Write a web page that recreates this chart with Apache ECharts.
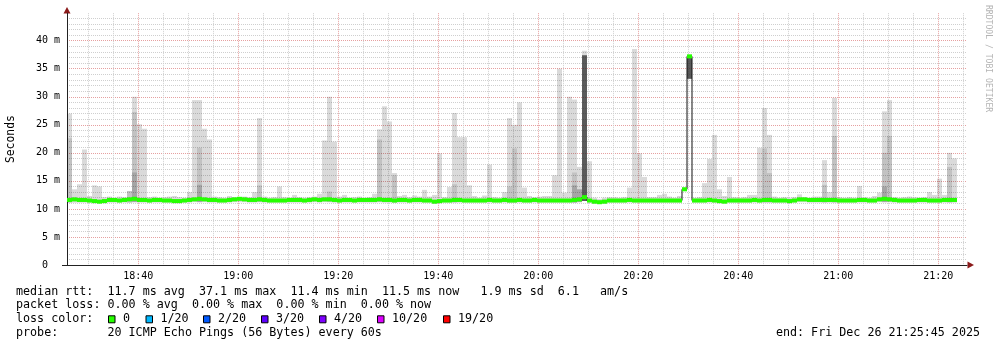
<!DOCTYPE html>
<html><head><meta charset="utf-8">
<script src="https://cdn.jsdelivr.net/npm/echarts@6/dist/echarts.min.js"></script>
<style>html,body{margin:0;padding:0;background:#fff}#c{width:997px;height:347px}</style>
</head><body><div id="c"></div>
<script>
// time: minutes after 18:00; first sample column starts 18:25:45, one column per minute
const startMinute = 25.75;
const endMinute = 205.75;
const stepMinutes = 1;
const xTickLabels = ['18:40','19:00','19:20','19:40','20:00','20:20','20:40','21:00','21:20'];
const yTickLabels = ['0','5 m','10 m','15 m','20 m','25 m','30 m','35 m','40 m'];

// median rtt (ms) per column
const median = [
11.6,11.7,11.6,11.6,11.5,11.4,11.3,11.4,11.6,11.6,
11.5,11.6,11.7,11.8,11.6,11.6,11.5,11.6,11.6,11.5,
11.5,11.4,11.4,11.5,11.6,11.7,11.8,11.7,11.6,11.6,
11.5,11.5,11.6,11.7,11.8,11.7,11.6,11.6,11.7,11.6,
11.5,11.5,11.5,11.5,11.6,11.6,11.6,11.5,11.6,11.7,
11.6,11.7,11.7,11.6,11.5,11.6,11.6,11.5,11.6,11.6,
11.6,11.6,11.7,11.6,11.6,11.5,11.6,11.6,11.5,11.6,
11.6,11.5,11.5,11.3,11.4,11.5,11.5,11.6,11.6,11.5,
11.5,11.5,11.5,11.5,11.6,11.5,11.5,11.6,11.5,11.5,
11.6,11.5,11.5,11.6,11.5,11.5,11.5,11.5,11.5,11.5,
11.5,11.6,11.7,12.1,11.5,11.3,11.2,11.3,11.5,11.5,
11.5,11.5,11.6,11.5,11.5,11.5,11.5,11.5,11.5,11.5,
11.5,11.5,11.5,13.5,37.2,11.5,11.5,11.5,11.6,11.5,
11.4,11.3,11.5,11.5,11.5,11.5,11.5,11.6,11.5,11.6,
11.6,11.5,11.5,11.5,11.4,11.5,11.7,11.7,11.6,11.6,
11.6,11.6,11.6,11.6,11.5,11.5,11.5,11.5,11.6,11.6,
11.5,11.5,11.7,11.8,11.7,11.6,11.5,11.5,11.5,11.5,
11.6,11.6,11.5,11.5,11.5,11.6,11.6,11.6
];
// smoke: lowest ping (ms) per column
const smokeLow = [
11.1,11.1,11.1,11.1,11.1,11.0,11.0,11.0,11.1,11.1,
11.1,11.1,11.1,11.2,11.1,11.1,11.1,11.1,11.1,11.1,
11.1,11.0,11.0,11.1,11.1,11.2,11.2,11.2,11.1,11.1,
11.1,11.1,11.1,11.2,11.2,11.2,11.1,11.1,11.2,11.1,
11.1,11.1,11.1,11.1,11.1,11.1,11.1,11.1,11.1,11.2,
11.1,11.2,11.2,11.1,11.1,11.1,11.1,11.1,11.1,11.1,
11.1,11.1,11.2,11.1,11.1,11.1,11.1,11.1,11.1,11.1,
11.1,11.1,11.1,10.9,11.0,11.1,11.1,11.1,11.1,11.1,
11.1,11.1,11.1,11.1,11.1,11.1,11.1,11.1,11.1,11.1,
11.1,11.1,11.1,11.1,11.1,11.1,11.1,11.1,11.1,11.1,
11.1,11.1,11.2,11.4,11.1,10.9,10.9,10.9,11.1,11.1,
11.1,11.1,11.1,11.1,11.1,11.1,11.1,11.1,11.1,11.1,
11.1,11.1,11.1,13.2,33.2,11.1,11.1,11.1,11.1,11.1,
11.0,11.0,11.1,11.1,11.1,11.1,11.1,11.1,11.1,11.1,
11.1,11.1,11.1,11.1,11.0,11.1,11.2,11.2,11.1,11.1,
11.1,11.1,11.1,11.1,11.1,11.1,11.1,11.1,11.1,11.1,
11.1,11.1,11.2,11.2,11.2,11.1,11.1,11.1,11.1,11.1,
11.1,11.1,11.1,11.1,11.1,11.1,11.1,11.1
];
// smoke: highest ping (ms) per column
const smokeMax = [
27.0,13.5,14.4,20.6,12.3,14.2,14.0,12.1,12.2,12.0,
12.2,12.1,13.2,30.0,25.1,24.3,12.1,12.2,12.0,12.1,
12.2,12.3,12.1,12.0,13.0,29.4,29.4,24.3,22.4,12.2,
12.1,12.0,12.3,12.1,12.0,12.2,12.1,13.0,26.2,12.2,
12.0,12.1,14.0,12.1,12.0,12.5,12.1,12.0,12.1,12.2,
12.7,22.2,30.0,22.0,12.2,12.5,12.0,12.1,12.2,12.0,
12.1,12.7,24.2,28.3,25.6,16.4,12.3,12.5,12.1,12.4,
12.2,13.4,12.2,12.5,19.9,12.1,13.9,27.1,22.8,22.8,
14.2,12.3,12.0,12.4,17.9,12.1,12.0,13.0,26.2,25.0,
29.0,13.8,12.3,12.1,12.2,12.3,12.3,16.0,35.0,12.9,
30.0,29.5,17.5,38.2,18.5,12.0,11.8,12.0,12.1,12.1,
12.0,12.1,13.8,38.5,19.9,15.7,12.1,12.1,12.5,12.7,
12.2,12.0,12.3,13.9,37.5,12.0,12.1,14.6,18.9,23.2,
13.5,12.3,15.7,12.1,12.0,12.1,12.5,12.5,20.9,28.0,
23.2,12.2,12.0,12.1,12.0,12.1,12.6,12.1,12.0,12.2,
12.2,18.7,13.0,29.8,12.1,12.0,12.1,12.0,14.1,12.1,
12.0,12.3,12.9,27.4,29.4,12.1,12.0,12.1,12.2,12.1,
12.0,12.1,13.0,12.5,15.4,12.5,20.0,19.0
];
// denser smoke bands: [column, top ms]
const smokeMidBand = [[0,22.6],[12,13.2],[13,27.3],[26,20.9],[38,14.2],[52,13.1],[62,22.4],[65,16.0],
  [77,14.4],[88,14.0],[89,20.8],[101,16.5],[102,13.5],[139,20.8],[140,16.4],[151,14.3],[153,23.0],
  [163,20.0],[164,23.0],[176,17.5]];
const smokeDarkBand = [[13,16.5],[26,14.3],[101,14.2],[102,13.5],[163,14.0]];
const smokeCoreBand = [[103,37.4],[124,37.3]];

const lossColors = ['#26ff00','#00b8ff','#0059ff','#5e00ff','#7e00ff','#dd00ff','#ff0000'];
const lossLabels = ['0','1/20','2/20','3/20','4/20','10/20','19/20'];
const statsLines = [
  'median rtt:  11.7 ms avg  37.1 ms max  11.4 ms min  11.5 ms now   1.9 ms sd  6.1   am/s',
  'packet loss: 0.00 % avg  0.00 % max  0.00 % min  0.00 % now',
  'loss color:',
  'probe:       20 ICMP Echo Pings (56 Bytes) every 60s'
];
const endText = 'end: Fri Dec 26 21:25:45 2025';

// ---------- build ----------
const xs = median.map((_, i) => startMinute + (i + 0.5) * stepMinutes);
function sparseToFull(pairs) {
  const a = median.map(() => null);
  pairs.forEach(p => { a[p[0]] = p[1]; });
  return a;
}
const midTop = sparseToFull(smokeMidBand);
const darkTop = sparseToFull(smokeDarkBand);
const coreTop = sparseToFull(smokeCoreBand);

// a column band from lo to hi, drawn through the axes' scales
function columnRect(color) {
  return function (params, api) {
    const x = api.value(0), lo = api.value(1), hi = api.value(2);
    const a = api.coord([x - stepMinutes / 2, hi]);
    const b = api.coord([x + stepMinutes / 2, lo]);
    return { type: 'rect', shape: { x: a[0], y: a[1], width: b[0] - a[0], height: b[1] - a[1] },
      style: { fill: color } };
  };
}
function bandSeries(name, lowArr, topArr, color, z) {
  const data = [];
  xs.forEach((x, i) => { if (topArr[i] != null) data.push([x, lowArr[i], topArr[i]]); });
  return { name: name, type: 'custom', renderItem: columnRect(color), data: data, z: z,
    encode: { x: 0, y: [1, 2] }, silent: true, animation: false };
}
const GREEN_HALF = 0.36;
const greenLow = median.map(v => v - GREEN_HALF);
const greenTop = median.map(v => v + GREEN_HALF);

const series = [
  bandSeries('light', smokeLow, smokeMax, 'rgba(0,0,0,0.145)', 2),
  bandSeries('mid', smokeLow, midTop, 'rgba(0,0,0,0.11)', 2),
  bandSeries('dark', smokeLow, darkTop, 'rgba(0,0,0,0.15)', 2),
  bandSeries('core', smokeLow, coreTop, 'rgba(40,40,40,0.72)', 2),
  { name: 'medianLine', type: 'line', step: 'middle', data: xs.map((x, i) => [x, median[i]]), z: 3,
    symbol: 'none', lineStyle: { color: '#111', width: 1 }, animation: false, silent: true },
  bandSeries('loss0', greenLow, greenTop, lossColors[0], 4)
];

const FONT = 'DejaVu Sans Mono';
const FS = 11.7;
const graphics = [];
const lineY = [291.5, 305.4, 319.3, 333.3];
statsLines.forEach((t, k) => graphics.push({ type: 'text', x: 16, y: lineY[k],
  style: { text: t, font: FS + 'px "' + FONT + '"', fill: '#000', textVerticalAlign: 'middle' } }));
graphics.push({ type: 'text', x: 980, y: lineY[3],
  style: { text: endText, font: FS + 'px "' + FONT + '"', fill: '#000', textAlign: 'right', textVerticalAlign: 'middle' } });
const boxX = [108.5, 146, 203.5, 261.5, 319.5, 377.5, 443.5];
lossColors.forEach((c, k) => {
  graphics.push({ type: 'rect', shape: { x: boxX[k], y: 315.8, width: 6.5, height: 7 },
    style: { fill: c, stroke: '#000', lineWidth: 1 } });
  graphics.push({ type: 'text', x: boxX[k] + 14.5, y: lineY[2],
    style: { text: lossLabels[k], font: FS + 'px "' + FONT + '"', fill: '#000', textVerticalAlign: 'middle' } });
});
graphics.push({ type: 'text', x: 988, y: 5, rotation: -Math.PI / 2,
  style: { text: 'RRDTOOL / TOBI OETIKER', font: '8.1px "' + FONT + '"', fill: '#b4b4b4', textVerticalAlign: 'middle' } });
// axis arrows and the short axis overhang
graphics.push({ type: 'polygon', shape: { points: [[967.5, 261.5], [974, 265], [967.5, 268.5]] }, style: { fill: '#8b1a1a' } });
graphics.push({ type: 'polygon', shape: { points: [[63.5, 13.5], [67, 7], [70.5, 13.5]] }, style: { fill: '#8b1a1a' } });
graphics.push({ type: 'line', shape: { x1: 62, y1: 265.5, x2: 67, y2: 265.5 }, style: { stroke: '#222', lineWidth: 1 } });

const chart = echarts.init(document.getElementById('c'), null, { renderer: 'canvas' });
chart.setOption({
  backgroundColor: '#fff',
  animation: false,
  grid: { left: 67, right: 30, top: 13.2, bottom: 82, containLabel: false, outerBoundsMode: 'none' },
  xAxis: {
    type: 'value', min: startMinute, max: endMinute, splitNumber: 9, minInterval: 20, maxInterval: 20,
    axisLine: { show: true, onZero: false, lineStyle: { color: '#222', width: 1 } },
    axisTick: { show: false },
    axisLabel: { margin: 6, color: '#000', fontFamily: FONT, fontSize: 10,
      showMinLabel: false, showMaxLabel: false,
      formatter: v => {
        const idx = xTickLabels.findIndex(l => { const p = l.split(':'); return Math.abs((+p[0] - 18) * 60 + +p[1] - v) < 1e-6; });
        return idx >= 0 ? xTickLabels[idx] : '';
      } },
    splitLine: { show: true, showMinLine: false, showMaxLine: false, lineStyle: { color: '#e6a0a0', width: 1, type: [1, 1] } },
    minorTick: { show: false, splitNumber: 4 },
    minorSplitLine: { show: true, lineStyle: { color: '#cfcfcf', width: 1, type: [1, 1] } }
  },
  yAxis: {
    type: 'value', min: 0, max: 44.9, interval: 5,
    name: 'Seconds', nameLocation: 'middle', nameGap: 50, nameRotate: 90,
    nameTextStyle: { color: '#000', fontFamily: FONT, fontSize: 11.4 },
    axisLine: { show: true, lineStyle: { color: '#222', width: 1 } },
    axisTick: { show: false },
    axisLabel: { margin: 7, color: '#000', fontFamily: FONT, fontSize: 10, showMaxLabel: false,
      formatter: v => { const i = Math.round(v / 5); return (Math.abs(v - i * 5) < 1e-6 && yTickLabels[i] != null) ? (i === 0 ? yTickLabels[0] + '  ' : yTickLabels[i]) : ''; } },
    splitLine: { show: true, showMinLine: false, showMaxLine: false, lineStyle: { color: '#e6a0a0', width: 1, type: [1, 1] } },
    minorTick: { show: false, splitNumber: 5 },
    minorSplitLine: { show: true, lineStyle: { color: '#cfcfcf', width: 1, type: [1, 1] } }
  },
  series: series,
  graphic: graphics
});
</script></body></html>
